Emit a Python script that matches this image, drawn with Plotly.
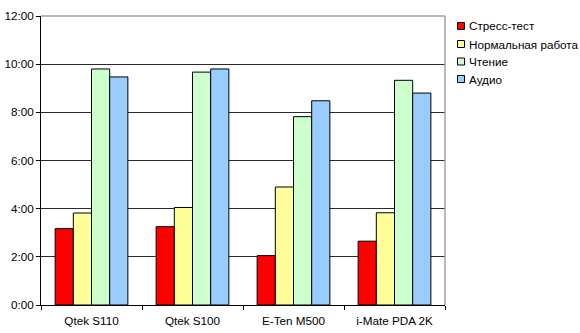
import plotly.graph_objects as go

categories = ["Qtek S110", "Qtek S100", "E-Ten M500", "i-Mate PDA 2K"]
series_names = ["Стресс-тест", "Нормальная работа", "Чтение", "Аудио"]
stress = [3.17, 3.25, 2.05, 2.65]
normal = [3.82, 4.05, 4.90, 3.83]
reading = [9.80, 9.67, 7.82, 9.33]
audio = [9.47, 9.80, 8.48, 8.80]
colors = ["#ff0000", "#ffff99", "#ccffcc", "#99ccff"]
tick_vals = [0, 2, 4, 6, 8, 10, 12]
tick_text = ["0:00", "2:00", "4:00", "6:00", "8:00", "10:00", "12:00"]

W, H = 580, 333
ML, MR, MT, MB = 41, 135, 16, 28

fig = go.Figure()
for name, vals, col in zip(series_names, [stress, normal, reading, audio], colors):
    fig.add_trace(go.Bar(x=categories, y=vals, name=name,
                         marker=dict(color=col, line=dict(color="#000000", width=1))))

fig.update_layout(
    width=W, height=H,
    margin=dict(l=ML, r=MR, t=MT, b=MB, autoexpand=False),
    paper_bgcolor="white", plot_bgcolor="white",
    barmode="group", bargap=0.28, bargroupgap=0,
    font=dict(family="Liberation Sans, Arial, sans-serif", size=11.7, color="#000000"),
    showlegend=False,
)
fig.update_xaxes(showline=True, linecolor="#000000", linewidth=1,
                 ticks="outside", tickson="boundaries", ticklen=4, tickcolor="#000000",
                 showgrid=False, tickangle=0, automargin=False, ticklabelstandoff=5)
fig.update_yaxes(range=[0, 12], tickvals=tick_vals, ticktext=tick_text,
                 showline=True, linecolor="#000000", linewidth=1,
                 ticks="outside", ticklen=4, tickcolor="#000000",
                 showgrid=True, gridcolor="#2a2a2a", gridwidth=1,
                 zeroline=False, automargin=False)
# gray plot border top and right
fig.add_shape(type="line", xref="paper", yref="paper", x0=0, x1=1, y0=1, y1=1,
              line=dict(color="#a0a0a0", width=1.5), layer="above")
fig.add_shape(type="line", xref="paper", yref="paper", x0=1, x1=1, y0=0, y1=1,
              line=dict(color="#a0a0a0", width=1.5), layer="above")

# legend drawn manually (pixel positions converted to paper coords)
pw = W - ML - MR
ph = H - MT - MB
def px(x):
    return (x - ML) / pw
def py(y):
    return (H - MB - y) / ph

row_y = [26, 44, 61.5, 79]
for name, col, yc in zip(series_names, colors, row_y):
    fig.add_shape(type="rect", xref="paper", yref="paper",
                  x0=px(457.5), x1=px(464.5), y0=py(yc + 3.5), y1=py(yc - 3.5),
                  fillcolor=col, line=dict(color="#000000", width=1))
    fig.add_annotation(xref="paper", yref="paper", x=px(466.5), y=py(yc),
                       xanchor="left", yanchor="middle", text=name, showarrow=False,
                       font=dict(size=11.7, color="#000000"))

fig.write_html("out.html")
